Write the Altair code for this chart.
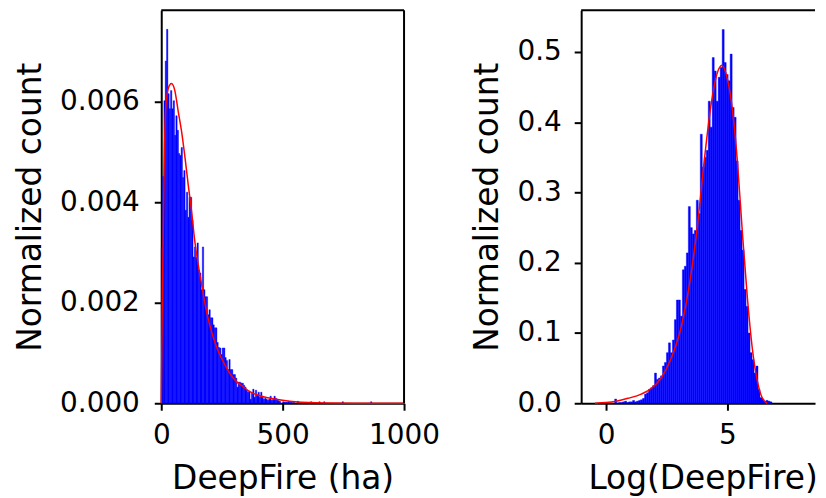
import altair as alt
import pandas as pd

# ---------------- data ----------------
# Left panel: histogram of DeepFire (ha), normalized counts
left_bin_width = 5.46
left_heights = [0.0031, 0.00451, 0.00602, 0.00681, 0.00744, 0.00616, 0.00586, 0.00622, 0.00586, 0.00602,
                0.00533, 0.00572, 0.00543, 0.00497, 0.00493, 0.00509, 0.00449, 0.00463, 0.00384, 0.0042,
                0.0037, 0.0041, 0.0041, 0.00364, 0.00291, 0.00311, 0.0029, 0.00319, 0.00265, 0.00259,
                0.00226, 0.00311, 0.00226, 0.00212, 0.00212, 0.00176, 0.00186, 0.0017, 0.0017, 0.00156,
                0.0015, 0.0015, 0.00121, 0.00111, 0.0011, 0.00097, 0.0011, 0.0011, 0.00091, 0.00085,
                0.00067, 0.00087, 0.00067, 0.00067, 0.00057, 0.00057, 0.0005, 0.00032, 0.00042, 0.00042,
                0.0004, 0.0004, 0.00036, 0.00032, 0.00026, 0.00022, 0.00024, 0.00008, 0.0002, 0.00028,
                0.00012, 0.00026, 0.00016, 0.00022, 0.00012, 0.00022, 0.00012, 0.00008, 0.0001, 0.00008,
                0.00006, 0.00008, 0.00014, 0.00006, 0.00008, 0.00014, 0.0001, 0.00008, 0.00005, 0.00004]
left_tail_x = [500, 505, 511, 516, 522, 527, 533, 538, 544, 560, 566, 582, 615, 649, 669, 745, 862]
left_tail_h = [0.00003, 0.00002, 0.00002, 0.00002, 0.00004, 0.00002, 0.00002, 0.00001, 0.00002,
               0.00004, 0.00001, 0.00001, 0.00003, 0.00003, 0.00003, 0.00003, 0.00003]
left_curve_x = [0, 2, 4, 8.2, 12, 17.7, 28.7, 42, 56, 70, 84, 97.5, 111, 125, 138, 152, 166, 180, 200,
                228, 255, 283, 310, 337, 365, 406, 460, 529, 638, 800, 1000]
left_curve_y = [0, 0.0009, 0.0019, 0.0034, 0.0047, 0.0058, 0.00626, 0.00636, 0.00622, 0.0058, 0.0054,
                0.0049, 0.00435, 0.00382, 0.00323, 0.00277, 0.00237, 0.00198, 0.00155, 0.00112, 0.00083,
                0.00059, 0.00043, 0.00033, 0.00023, 0.00015, 0.00009, 0.00004, 0.00001, 0.000002, 0]

# Right panel: histogram of Log(DeepFire)
right_bin_start = 0.355
right_bin_width = 0.082
right_heights = [0.006, 0.0, 0.001, 0.001, 0.002, 0.003, 0.001, 0.002, 0.002, 0.004, 0.002, 0.003, 0.004,
                 0.005, 0.007, 0.013, 0.015, 0.020, 0.022, 0.025, 0.043, 0.034, 0.036, 0.039, 0.053, 0.058,
                 0.072, 0.086, 0.072, 0.090, 0.119, 0.147, 0.147, 0.124, 0.19, 0.195, 0.214, 0.28, 0.25,
                 0.241, 0.246, 0.289, 0.27, 0.383, 0.336, 0.35, 0.36, 0.43, 0.393, 0.492, 0.473, 0.43,
                 0.464, 0.478, 0.532, 0.485, 0.468, 0.459, 0.497, 0.421, 0.407, 0.345, 0.289, 0.246, 0.218,
                 0.162, 0.138, 0.100, 0.072, 0.062, 0.043, 0.053, 0.020, 0.008, 0.006, 0.003, 0.004, 0.003,
                 0.002]
right_curve_x = [-0.46, 0.0, 0.42, 0.9, 1.45, 1.86, 2.27, 2.68, 3.09, 3.5, 3.77, 4.04, 4.32, 4.59, 4.77,
                 5.0, 5.2, 5.41, 5.61, 5.82, 6.02, 6.23, 6.37, 6.5, 6.64]
right_curve_y = [0, 0.001, 0.003, 0.007, 0.013, 0.021, 0.036, 0.064, 0.108, 0.184, 0.255, 0.344, 0.424,
                 0.471, 0.481, 0.461, 0.419, 0.344, 0.245, 0.150, 0.079, 0.032, 0.013, 0.004, 0.0]

left_x_ticks = [0, 500, 1000]
left_y_ticks = [0, 0.002, 0.004, 0.006]
right_x_ticks = [0, 5]
right_y_ticks = [0, 0.1, 0.2, 0.3, 0.4, 0.5]

# ---------------- frames ----------------
lx0 = [i * left_bin_width for i in range(len(left_heights))] + left_tail_x
lh = left_heights + left_tail_h
df_left = pd.DataFrame({"x0": lx0, "x1": [v + left_bin_width for v in lx0], "h": lh})
df_left_curve = pd.DataFrame({"x": left_curve_x, "y": left_curve_y})

rx0 = [right_bin_start + i * right_bin_width for i in range(len(right_heights))]
df_right = pd.DataFrame({"x0": rx0, "x1": [v + right_bin_width for v in rx0], "h": right_heights})
df_right_curve = pd.DataFrame({"x": right_curve_x, "y": right_curve_y})

LX = [0, 1000]
LY = [0, 0.00782]
RX = [-1.025, 8.606]
RY = [0, 0.5595]

W, H = 244, 395
RW = 235
BLUE = "#0000ff"


def spine_rule(val, channel):
    df = pd.DataFrame({"v": [val]})
    if channel == "y":
        return alt.Chart(df).mark_rule(color="black", strokeWidth=2).encode(y="v:Q")
    return alt.Chart(df).mark_rule(color="black", strokeWidth=2).encode(x="v:Q")


left_bars = alt.Chart(df_left).mark_rect(color=BLUE, stroke=BLUE, strokeWidth=0.4).encode(
    x=alt.X("x0:Q", scale=alt.Scale(domain=LX, nice=False, zero=False),
            axis=alt.Axis(values=left_x_ticks, title="DeepFire (ha)", format="d")),
    x2="x1:Q",
    y=alt.Y("h:Q", scale=alt.Scale(domain=LY, nice=False),
            axis=alt.Axis(values=left_y_ticks, title="Normalized count", format=".3f")),
    y2=alt.datum(0),
)
left_line = alt.Chart(df_left_curve).mark_line(color="red", strokeWidth=1.5, interpolate="monotone").encode(
    x="x:Q", y="y:Q")
left = alt.layer(left_bars, left_line, spine_rule(LY[1], "y"), spine_rule(LX[1], "x")).properties(
    width=W, height=H)

right_bars = alt.Chart(df_right).mark_rect(color=BLUE, stroke=BLUE, strokeWidth=0.4).encode(
    x=alt.X("x0:Q", scale=alt.Scale(domain=RX, nice=False, zero=False),
            axis=alt.Axis(values=right_x_ticks, title="Log(DeepFire)", format="d", titleX=122)),
    x2="x1:Q",
    y=alt.Y("h:Q", scale=alt.Scale(domain=RY, nice=False),
            axis=alt.Axis(values=right_y_ticks, title="Normalized count", format=".1f",
                          labelPadding=13, titlePadding=13)),
    y2=alt.datum(0),
)
right_line = alt.Chart(df_right_curve).mark_line(color="red", strokeWidth=1.5, interpolate="monotone").encode(
    x="x:Q", y="y:Q")
right = alt.layer(right_bars, right_line, spine_rule(RY[1], "y")).properties(width=RW, height=H)

chart = alt.hconcat(left, right, spacing=31).properties(
    padding={"left": 6, "top": 0, "right": 0, "bottom": 0}
).configure_view(strokeOpacity=0).configure_axis(
    grid=False,
    labelFont="DejaVu Sans", titleFont="DejaVu Sans",
    labelFontSize=28, titleFontSize=33, titleFontWeight="normal",
    labelColor="black", titleColor="black",
    domainColor="black", domainWidth=2,
    tickColor="black", tickWidth=2, tickSize=7,
    labelFlush=False, labelOverlap=False,
).configure_axisY(labelPadding=15, titlePadding=12).configure_axisX(labelPadding=11, titlePadding=14)

chart.save("out.html", embed_options={"renderer": "svg", "actions": False})
